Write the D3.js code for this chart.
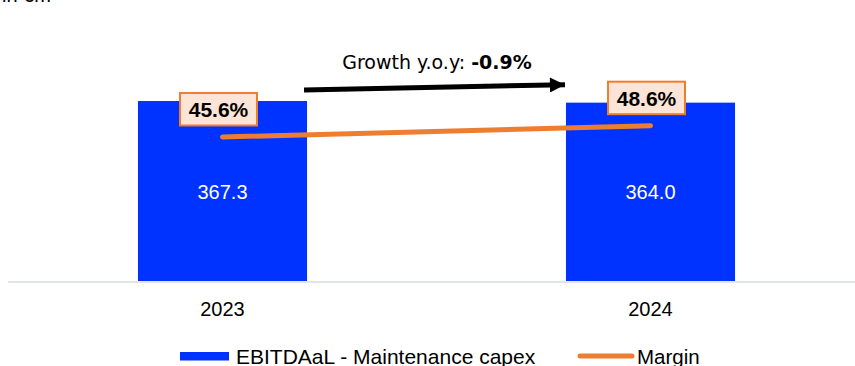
<!DOCTYPE html>
<html>
<head>
<meta charset="utf-8">
<script src="https://cdn.jsdelivr.net/npm/d3@7"></script>
<style>
  body { margin: 0; background: #fff; }
  svg { display: block; font-family: "Liberation Sans", Arial, sans-serif; }
</style>
</head>
<body>
<div id="chart"></div>
<script>
// chart data
var years = ["2023", "2024"];
var ebitdaCapex = [367.3, 364.0];
var margins = [45.6, 48.6];
var legendLabels = ["EBITDAaL - Maintenance capex", "Margin"];
var unitLabel = "in €m";

var width = 855, height = 366;
var blue = "#0033ff", orange = "#ed7d31";

var svg = d3.select("#chart").append("svg")
    .attr("width", width)
    .attr("height", height);

// scales
var x = d3.scaleBand()
    .domain(years)
    .range([8.5, 864.5])
    .paddingInner(0.605)
    .paddingOuter(0.3025);

var y = d3.scaleLinear()
    .domain([0, 400])
    .range([281, 85]);

var yMargin = d3.scaleLinear()
    .domain([30, 60])
    .range([195.8, 82.7]);

// unit label, mostly cut off at the top
svg.append("text")
    .attr("x", 2)
    .attr("y", 2)
    .attr("font-size", "20px")
    .attr("fill", "#000")
    .text(unitLabel);

// bars
svg.selectAll(".bar")
    .data(years)
    .enter().append("rect")
    .attr("class", "bar")
    .attr("x", function(d) { return x(d); })
    .attr("width", x.bandwidth())
    .attr("y", function(d, i) { return y(ebitdaCapex[i]); })
    .attr("height", function(d, i) { return y(0) - y(ebitdaCapex[i]); })
    .attr("fill", blue);

// value labels inside bars
svg.selectAll(".val")
    .data(years)
    .enter().append("text")
    .attr("class", "val")
    .attr("x", function(d) { return x(d) + x.bandwidth() / 2; })
    .attr("y", 199)
    .attr("text-anchor", "middle")
    .attr("font-size", "20px")
    .attr("fill", "#fff")
    .text(function(d, i) { return ebitdaCapex[i].toFixed(1); });

// x axis
var xAxis = svg.append("g")
    .attr("transform", "translate(0," + 282 + ")")
    .call(d3.axisBottom(x).tickSize(0).tickPadding(20));
xAxis.select(".domain").remove();
xAxis.append("line")
    .attr("x1", 8).attr("x2", width)
    .attr("stroke", "#d9dde0")
    .attr("stroke-width", 1.5);
xAxis.selectAll(".tick text")
    .attr("font-family", "Liberation Sans, Arial, sans-serif")
    .attr("font-size", "20px")
    .attr("fill", "#000");

// margin line
var marginPts = years.map(function(d, i) {
    return [x(d) + x.bandwidth() / 2, yMargin(margins[i])];
});
svg.append("path")
    .attr("d", d3.line()(marginPts))
    .attr("fill", "none")
    .attr("stroke", orange)
    .attr("stroke-width", 5)
    .attr("stroke-linecap", "round");

// margin label boxes
var boxW = 77, boxH = 32.5;
var boxes = svg.selectAll(".mbox")
    .data(marginPts)
    .enter().append("g")
    .attr("class", "mbox")
    .attr("transform", function(d) {
        return "translate(" + (d[0] - 4) + "," + (d[1] - 11.5 - boxH) + ")";
    });
boxes.append("rect")
    .attr("x", -boxW / 2)
    .attr("width", boxW)
    .attr("height", boxH)
    .attr("fill", "#fce4d6")
    .attr("stroke", orange)
    .attr("stroke-width", 2);
boxes.append("text")
    .attr("y", 24)
    .attr("text-anchor", "middle")
    .attr("font-size", "21px")
    .attr("font-weight", "bold")
    .attr("fill", "#000")
    .text(function(d, i) { return margins[i].toFixed(1) + "%"; });

// growth arrow
var growth = (ebitdaCapex[1] - ebitdaCapex[0]) / ebitdaCapex[0] * 100;
var ax1 = x(years[0]) + x.bandwidth() - 3, ax2 = x(years[1]);
var ay1 = y(ebitdaCapex[0]) - 11, ay2 = y(ebitdaCapex[1]) - 18;

svg.append("defs").append("marker")
    .attr("id", "arrow")
    .attr("viewBox", "0 0 10 10")
    .attr("refX", 10).attr("refY", 5)
    .attr("markerWidth", 3.6).attr("markerHeight", 3)
    .attr("markerUnits", "strokeWidth")
    .attr("orient", "auto")
    .append("path")
    .attr("d", "M0,0 L10,5 L0,10 Z")
    .attr("fill", "#000");

svg.append("line")
    .attr("x1", ax1).attr("y1", ay1)
    .attr("x2", ax2 - 1).attr("y2", ay2)
    .attr("stroke", "#000")
    .attr("stroke-width", 5)
    .attr("marker-end", "url(#arrow)");

var gText = svg.append("text")
    .attr("x", (ax1 + ax2) / 2 + 2)
    .attr("y", 69)
    .attr("text-anchor", "middle")
    .attr("font-family", "DejaVu Sans, Verdana, sans-serif")
    .attr("font-size", "19px")
    .attr("fill", "#000");
gText.append("tspan").text("Growth y.o.y: ");
gText.append("tspan").attr("font-weight", "bold")
    .text((growth > 0 ? "+" : "") + growth.toFixed(1) + "%");

// legend
var legend = svg.append("g");
legend.append("rect")
    .attr("x", 180).attr("y", 352)
    .attr("width", 49).attr("height", 8.5)
    .attr("fill", blue);
legend.append("text")
    .attr("x", 236).attr("y", 364)
    .attr("font-size", "21px")
    .attr("fill", "#000")
    .text(legendLabels[0]);
legend.append("line")
    .attr("x1", 580).attr("x2", 632)
    .attr("y1", 356).attr("y2", 356)
    .attr("stroke", orange)
    .attr("stroke-width", 5)
    .attr("stroke-linecap", "round");
legend.append("text")
    .attr("x", 637).attr("y", 364)
    .attr("font-size", "20.5px")
    .attr("fill", "#000")
    .text(legendLabels[1]);
</script>
</body>
</html>
